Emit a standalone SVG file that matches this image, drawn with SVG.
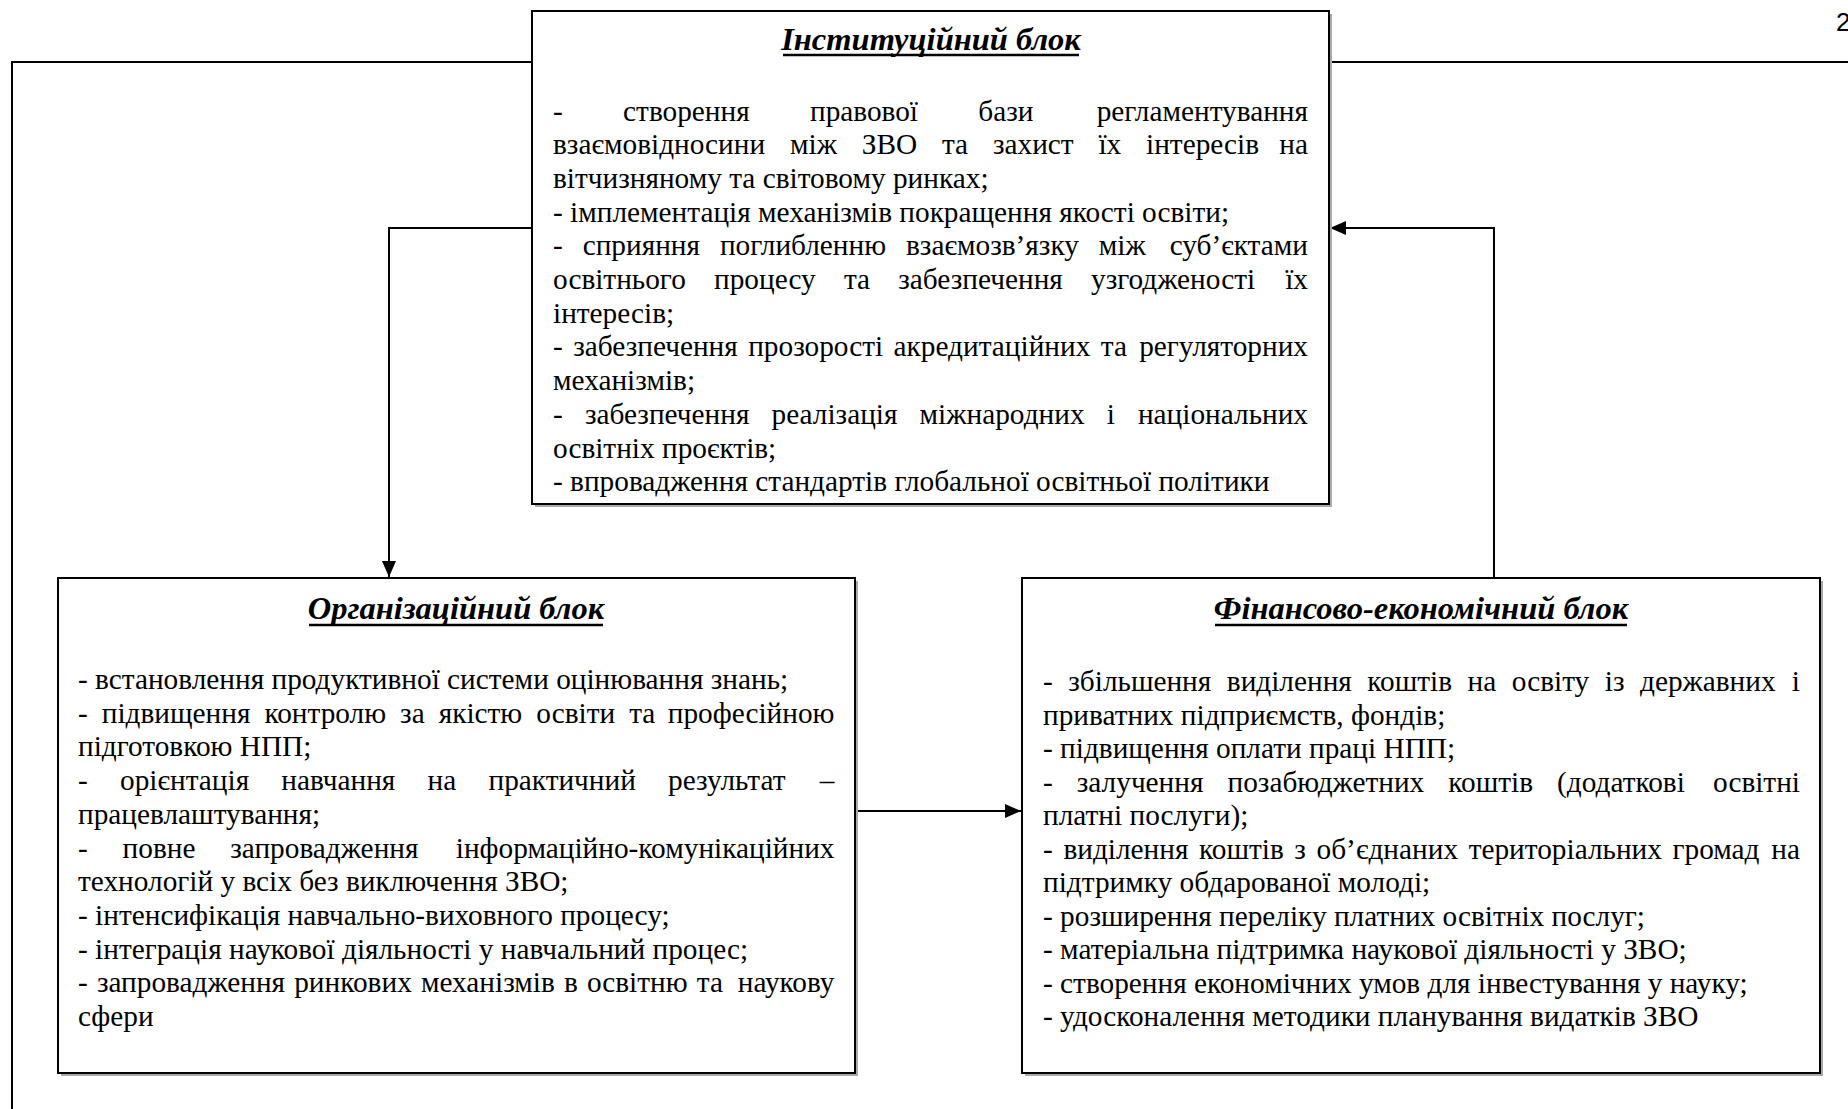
<svg xmlns="http://www.w3.org/2000/svg" width="1848" height="1109" viewBox="0 0 1848 1109">
<style>
text{font-family:"Liberation Serif","Times New Roman",serif;font-size:29.3px;fill:#000}
.t{font-weight:bold;font-style:italic;text-anchor:middle;font-size:32.5px}
.r{text-anchor:end}
.box{fill:#fff;stroke:#000;stroke-width:2}
.sh{fill:none;stroke:#aaa;stroke-width:2}
.ul{stroke:#000;stroke-width:2.5}
.ln{fill:none;stroke:#000;stroke-width:2}
.pg{font-family:"Liberation Sans",Arial,sans-serif;font-size:26px}
</style>
<defs>
<marker id="ah" markerUnits="userSpaceOnUse" markerWidth="16" markerHeight="16" viewBox="0 0 16 16" refX="16" refY="8" orient="auto">
<path d="M0,1 L16,8 L0,15 Z" fill="#000"/>
</marker>
</defs>
<rect width="1848" height="1109" fill="#fff"/>
<text class="pg" x="1836" y="31">2</text>
<g id="frame">
<path class="ln" d="M532,62 H12 V1109"/>
<path class="ln" d="M1329,62 H1848"/>
</g>
<g id="connectors">
<path class="ln" d="M532,228 H389 V577" marker-end="url(#ah)"/>
<path class="ln" d="M1494,578 V228 H1330" marker-end="url(#ah)"/>
<path class="ln" d="M855,811 H1021" marker-end="url(#ah)"/>
</g>
<g id="institutional">
<path class="sh" d="M535,506 H1331 V14"/>
<rect class="box" x="532" y="11" width="797" height="493"/>
<text class="t" x="931" y="50">Інституційний блок</text>
<line class="ul" x1="783" y1="55" x2="1079" y2="55"/>
<text x="553" y="120.5" style="word-spacing:53px">- створення правової бази</text>
<text class="r" x="1308" y="120.5">регламентування</text>
<text x="553" y="154.2" style="word-spacing:17.5px">взаємовідносини між ЗВО та захист їх інтересів</text>
<text class="r" x="1308" y="154.2">на</text>
<text x="553" y="187.9">вітчизняному та світовому ринках;</text>
<text x="553" y="221.6">- імплементація механізмів покращення якості освіти;</text>
<text x="553" y="255.3" style="word-spacing:12.6px">- сприяння поглибленню взаємозв’язку між</text>
<text class="r" x="1308" y="255.3">суб’єктами</text>
<text x="553" y="289" style="word-spacing:20.9px">освітнього процесу та забезпечення узгодженості</text>
<text class="r" x="1308" y="289">їх</text>
<text x="553" y="322.7">інтересів;</text>
<text x="553" y="356.4" style="word-spacing:3.1px">- забезпечення прозорості акредитаційних та</text>
<text class="r" x="1308" y="356.4">регуляторних</text>
<text x="553" y="390.1">механізмів;</text>
<text x="553" y="423.8" style="word-spacing:14.8px">- забезпечення реалізація міжнародних і</text>
<text class="r" x="1308" y="423.8">національних</text>
<text x="553" y="457.5">освітніх проєктів;</text>
<text x="553" y="491.2">- впровадження стандартів глобальної освітньої політики</text>
</g>
<g id="organizational">
<path class="sh" d="M61,1075 H857 V581"/>
<rect class="box" x="58" y="578" width="797" height="495"/>
<text class="t" x="456" y="619">Організаційний блок</text>
<line class="ul" x1="309" y1="625" x2="603" y2="625"/>
<text x="78" y="689">- встановлення продуктивної системи оцінювання знань;</text>
<text x="78" y="722.7" style="word-spacing:6.7px">- підвищення контролю за якістю освіти та</text>
<text class="r" x="834.5" y="722.7">професійною</text>
<text x="78" y="756.4">підготовкою НПП;</text>
<text x="78" y="790.1" style="word-spacing:24.9px">- орієнтація навчання на практичний результат</text>
<text class="r" x="834.5" y="790.1">–</text>
<text x="78" y="823.8">працевлаштування;</text>
<text x="78" y="857.5" style="word-spacing:27.5px">- повне запровадження</text>
<text class="r" x="834.5" y="857.5">інформаційно-комунікаційних</text>
<text x="78" y="891.2">технологій у всіх без виключення ЗВО;</text>
<text x="78" y="924.9">- інтенсифікація навчально-виховного процесу;</text>
<text x="78" y="958.6">- інтеграція наукової діяльності у навчальний процес;</text>
<text x="78" y="992.3" style="word-spacing:1.8px">- запровадження ринкових механізмів в освітню та</text>
<text class="r" x="834.5" y="992.3">наукову</text>
<text x="78" y="1026">сфери</text>
</g>
<g id="financial">
<path class="sh" d="M1025,1075 H1822 V581"/>
<rect class="box" x="1022" y="578" width="798" height="495"/>
<text class="t" x="1421" y="619">Фінансово-економічний блок</text>
<line class="ul" x1="1215" y1="625" x2="1627" y2="625"/>
<text x="1043" y="691" style="word-spacing:8.2px">- збільшення виділення коштів на освіту із державних</text>
<text class="r" x="1800" y="691">і</text>
<text x="1043" y="724.5">приватних підприємств, фондів;</text>
<text x="1043" y="758">- підвищення оплати праці НПП;</text>
<text x="1043" y="791.5" style="word-spacing:16.7px">- залучення позабюджетних коштів (додаткові</text>
<text class="r" x="1800" y="791.5">освітні</text>
<text x="1043" y="825">платні послуги);</text>
<text x="1043" y="858.5" style="word-spacing:3.3px">- виділення коштів з об’єднаних територіальних громад</text>
<text class="r" x="1800" y="858.5">на</text>
<text x="1043" y="892">підтримку обдарованої молоді;</text>
<text x="1043" y="925.5">- розширення переліку платних освітніх послуг;</text>
<text x="1043" y="959">- матеріальна підтримка наукової діяльності у ЗВО;</text>
<text x="1043" y="992.5">- створення економічних умов для інвестування у науку;</text>
<text x="1043" y="1026">- удосконалення методики планування видатків ЗВО</text>
</g>
</svg>
